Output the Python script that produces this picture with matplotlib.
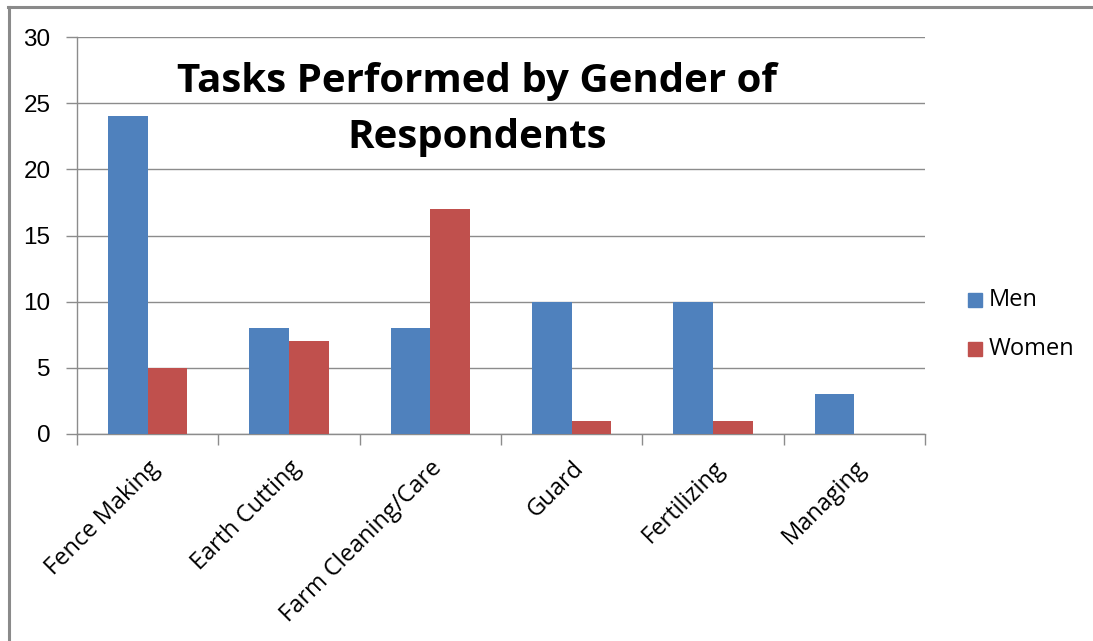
import matplotlib.pyplot as plt
import numpy as np
from matplotlib.patches import Rectangle
from matplotlib.lines import Line2D

categories = ["Fence Making", "Earth Cutting", "Farm Cleaning/Care", "Guard", "Fertilizing", "Managing"]
men = [24, 8, 8, 10, 10, 3]
women = [5, 7, 17, 1, 1, 0]
yticks = [0, 5, 10, 15, 20, 25, 30]

W, H = 1093, 641
fig = plt.figure(figsize=(W / 100, H / 100), dpi=100)
plt.rcParams['font.family'] = ['Open Sans', 'DejaVu Sans']

# outer frame lines (top and left)
fig.add_artist(Line2D([8 / W, 1], [1 - 7 / H, 1 - 7 / H], color="#8a8a8a", lw=2.2, transform=fig.transFigure))
fig.add_artist(Line2D([9 / W, 9 / W], [0, 1 - 7 / H], color="#8a8a8a", lw=2.2, transform=fig.transFigure))

ax = fig.add_axes([77 / W, 1 - 434 / H, (925 - 77) / W, (434 - 37) / H])
x = np.arange(len(categories))
bw = 0.28
ax.bar(x - bw / 2, men, bw, color="#4f81bd", label="Men", zorder=3)
ax.bar(x + bw / 2, women, bw, color="#c0504d", label="Women", zorder=3)

ax.set_xlim(-0.5, len(categories) - 0.5)
ax.set_ylim(0, 30)
ax.set_yticks(yticks)
ax.set_yticklabels([str(v) for v in yticks], fontsize=17.5, family=['Liberation Sans', 'DejaVu Sans'])
ax.yaxis.grid(True, color="#8c8c8c", lw=1, zorder=0)
ax.set_xticks(np.arange(-0.5, len(categories), 1.0), minor=False)
ax.set_xticklabels([])
ax.set_xticks(x, minor=True)
ax.set_xticklabels(categories, minor=True, rotation=45, ha="right", rotation_mode="anchor", fontsize=17)
ax.tick_params(axis="x", which="minor", length=0, pad=16)
ax.tick_params(axis="x", which="major", length=8, color="#8c8c8c", width=1)
ax.tick_params(axis="y", length=8, color="#8c8c8c", width=1, pad=11)

for s in ["top", "right"]:
    ax.spines[s].set_visible(False)
for s in ["left", "bottom"]:
    ax.spines[s].set_color("#8c8c8c")
    ax.spines[s].set_linewidth(1)

fig.text(477 / W, 1 - 92 / H, "Tasks Performed by Gender of", ha="center", va="baseline",
         fontsize=29, fontweight="bold")
fig.text(477 / W, 1 - 148 / H, "Respondents", ha="center", va="baseline",
         fontsize=29, fontweight="bold")

# legend
for yy, col, lab in [(300, "#4f81bd", "Men"), (349, "#c0504d", "Women")]:
    fig.add_artist(Rectangle((968 / W, 1 - (yy + 7) / H), 14 / W, 14 / H, color=col, transform=fig.transFigure))
    fig.text(989 / W, 1 - yy / H, lab, ha="left", va="center", fontsize=17)

fig.savefig("out.png", dpi=100, facecolor="white")
